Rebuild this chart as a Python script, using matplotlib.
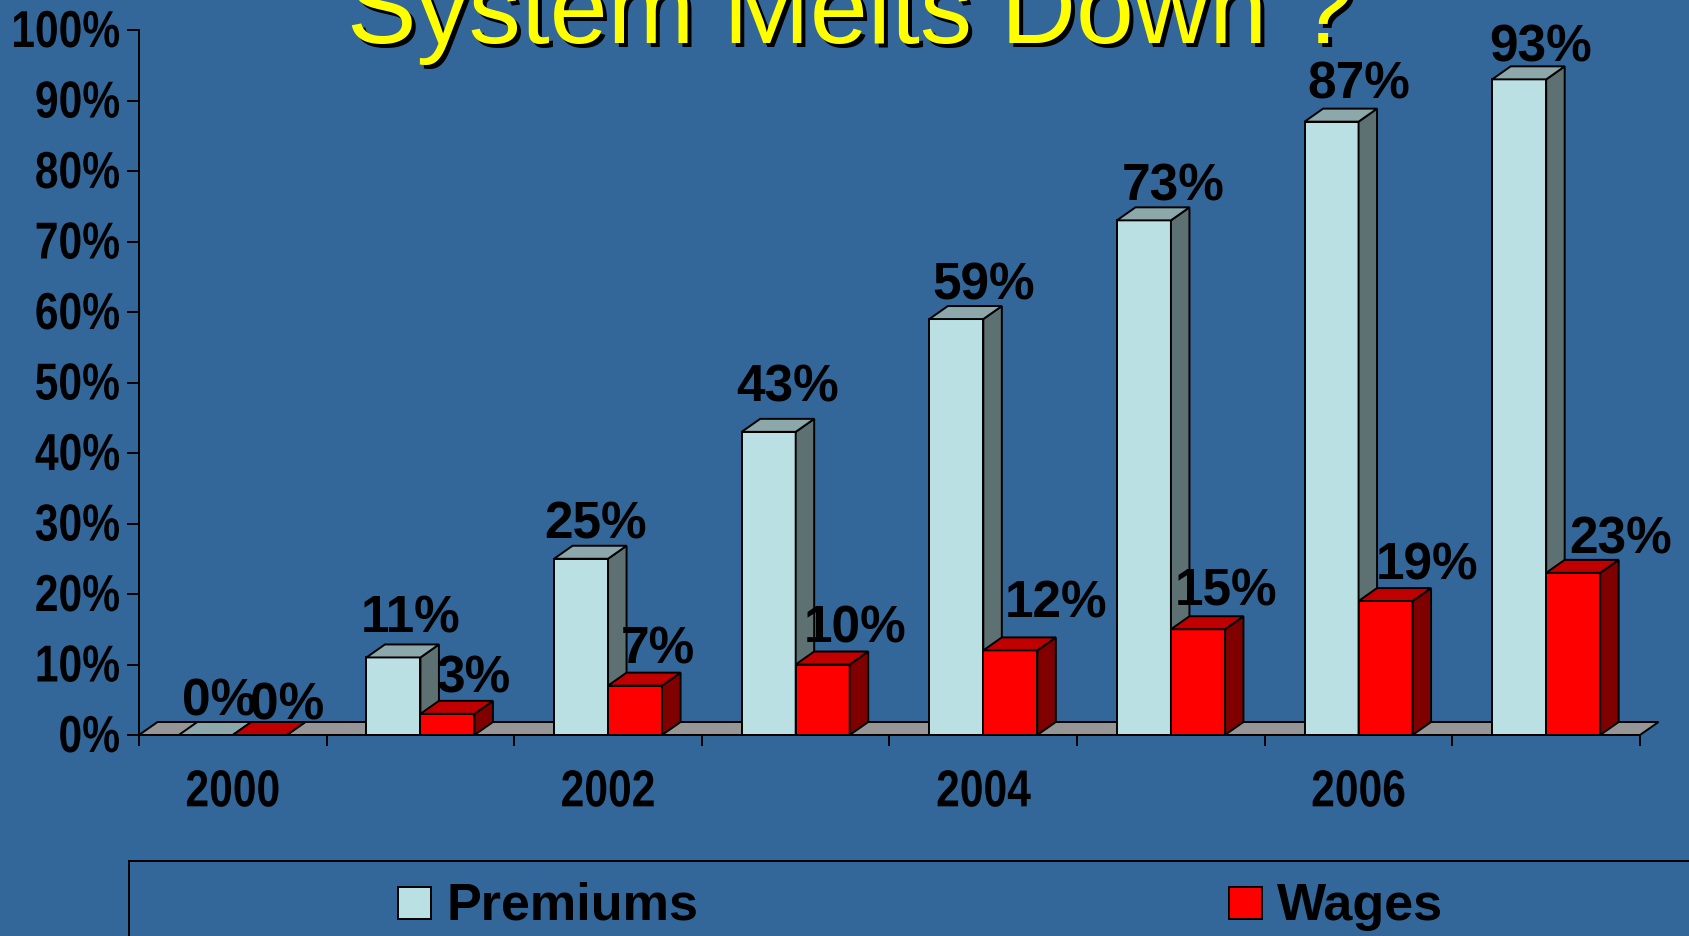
'''Premiums vs wages cumulative growth, fake 3d bars'''
import numpy as np
import matplotlib.pyplot as plt
from matplotlib.patches import Polygon, Rectangle
from matplotlib.patheffects import AbstractPathEffect
from matplotlib.transforms import Affine2D

W_PX, H_PX = 1690, 936

years = ['2000', '', '2002', '', '2004', '', '2006', '']
premiums = [0, 11, 25, 43, 59, 73, 87, 93]
wages = [0, 3, 7, 10, 12, 15, 19, 23]
ytick_vals = list(range(0, 101, 10))

# label nudges in pixels, the original slide had them hand placed
prem_dx = [13, 17, 15, 19, 27, 29, 27, 21]
prem_dy = [19, 25, 20, 30, 20, 20, 23, 18]
wage_dx = [27, 27, 23, 32, 46, 28, 42, 47]
wage_dy = [15, 21, 22, 22, 33, 24, 22, 19]

BG = '#336699'
PREM = ('#BBE0E3', '#8CA8AA', '#5D7072')  # front, top, side
WAGE = ('#FF0000', '#C00000', '#800000')
FLOOR = '#969696'

plt.rcParams['font.family'] = ['Liberation Sans', 'DejaVu Sans']


class Squeeze(AbstractPathEffect):
    '''narrow the glyphs sideways, no Arial Narrow installed here'''
    def __init__(self, sx, anchor):
        super().__init__()
        self.sx = sx
        self.anchor = anchor

    def draw_path(self, renderer, gc, tpath, affine, rgbFace=None):
        x = tpath.vertices[:, 0]
        a = x.max() if self.anchor == 'right' else (x.min() + x.max()) / 2.0
        squeeze = Affine2D().translate(-a, 0).scale(self.sx, 1).translate(a, 0)
        renderer.draw_path(gc, tpath, squeeze + affine, rgbFace)


fig = plt.figure(figsize=(W_PX / 100, H_PX / 100), dpi=100, facecolor=BG)
ax = fig.add_axes([139 / W_PX, 1 - 735 / H_PX, 1501 / W_PX, 705 / H_PX], facecolor='none')
ax.set_xlim(0, 8)
ax.set_ylim(0, 100)

# pixel sizes turned to data units
bar_w = 54 / (1501 / 8)
dep_x = 18.5 / (1501 / 8)
dep_y = 13 / 7.05
LW = 1.4


def bar3d(x, h, cols, z):
    ax.bar(x, h, bar_w, align='edge', color=cols[0], edgecolor='k', linewidth=LW, zorder=z, clip_on=False)
    top = [(x, h), (x + dep_x, h + dep_y), (x + bar_w + dep_x, h + dep_y), (x + bar_w, h)]
    side = [(x + bar_w, 0), (x + bar_w + dep_x, dep_y), (x + bar_w + dep_x, h + dep_y), (x + bar_w, h)]
    ax.add_patch(Polygon(side, closed=True, fc=cols[2], ec='k', lw=LW, zorder=z, clip_on=False))
    ax.add_patch(Polygon(top, closed=True, fc=cols[1], ec='k', lw=LW, zorder=z, clip_on=False))


# floor of the chart
ax.add_patch(Polygon([(0, 0), (dep_x, dep_y), (8 + dep_x, dep_y), (8, 0)], closed=True,
                     fc=FLOOR, ec='k', lw=LW, zorder=1, clip_on=False))

centers = np.arange(len(years)) + 0.5
for i, c in enumerate(centers):
    bar3d(c - bar_w, premiums[i], PREM, 3 + i * 0.1)
    bar3d(c, wages[i], WAGE, 3 + i * 0.1 + 0.05)

for i, c in enumerate(centers):
    ax.annotate('%d%%' % premiums[i], (c - bar_w / 2, premiums[i]), xytext=(prem_dx[i], prem_dy[i]),
                textcoords='offset pixels', ha='center', va='baseline', fontsize=37,
                fontweight='bold', color='k', zorder=10, annotation_clip=False)
    ax.annotate('%d%%' % wages[i], (c + bar_w / 2, wages[i]), xytext=(wage_dx[i], wage_dy[i]),
                textcoords='offset pixels', ha='center', va='baseline', fontsize=37,
                fontweight='bold', color='k', zorder=10, annotation_clip=False)

for s in ['top', 'right']:
    ax.spines[s].set_visible(False)
for s in ['left', 'bottom']:
    ax.spines[s].set_linewidth(LW)
    ax.spines[s].set_zorder(9)

ax.set_yticks(ytick_vals)
ax.set_yticklabels(['%d%%' % v for v in ytick_vals], fontweight='bold', fontsize=37.4)
ax.tick_params(axis='y', length=8.6, width=LW, pad=5)
for lab in ax.get_yticklabels():
    lab.set_path_effects([Squeeze(0.82, 'right')])
    lab.set_transform(lab.get_transform() + Affine2D().translate(0, 2))

ax.set_xticks(np.arange(0, 9))
ax.set_xticklabels([])
ax.set_xticks(centers, minor=True)
ax.set_xticklabels(years, minor=True, fontweight='bold', fontsize=37.4)
ax.tick_params(axis='x', which='major', length=8, width=LW)
ax.tick_params(axis='x', which='minor', length=0, pad=24)
for lab in ax.get_xticklabels(minor=True):
    lab.set_path_effects([Squeeze(0.82, 'center')])

# title, cut by the top of the slide as in the original
for off, col in [(4, 'k'), (0, '#FFFF00')]:
    fig.text((347 + off) / W_PX, 1 - (43 + off) / H_PX, 'System Melts Down ?', color=col,
             fontsize=75, ha='left', va='baseline')

# legend box runs off the slide
fig.add_artist(Rectangle((129.5 / W_PX, -0.05), 1.0, 1 - 861 / H_PX + 0.05, transform=fig.transFigure,
                         fc='none', ec='k', lw=LW))
for x0, x1, col, name in [(398, 447, PREM[0], 'Premiums'), (1229, 1277, WAGE[0], 'Wages')]:
    fig.add_artist(Rectangle((x0 / W_PX, 1 - 919 / H_PX), 33 / W_PX, 32 / H_PX, transform=fig.transFigure,
                             fc=col, ec='k', lw=LW))
    fig.text(x1 / W_PX, 1 - 920 / H_PX, name, fontsize=37.5, fontweight='bold', color='k', va='baseline')

plt.savefig('out.png', dpi=100, facecolor=BG)
